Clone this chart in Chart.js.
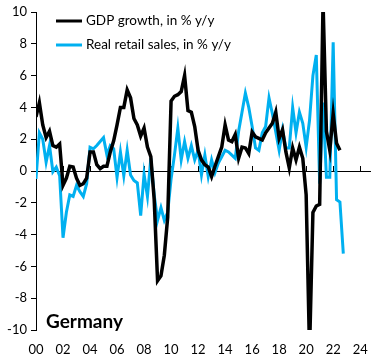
<!DOCTYPE html>
<html>
<head>
<meta charset="utf-8">
<script src="https://cdn.jsdelivr.net/npm/chart.js@4.4.1/dist/chart.umd.min.js"></script>
<style>
  html, body { margin: 0; padding: 0; background: #fff; }
  #wrap { position: relative; width: 384px; height: 360px; }
</style>
</head>
<body>
<div id="wrap"><canvas id="chart" width="384" height="360"></canvas></div>
<script>
// quarterly data, first point = 2000 Q1
const startYear = 2000;
const xTickLabels = ['00', '02', '04', '06', '08', '10', '12', '14', '16', '18', '20', '22', '24'];
const seriesNames = ['GDP growth, in % y/y', 'Real retail sales, in % y/y'];
const chartTitle = 'Germany';

const gdpGrowth = [
    3.4, 4.3, 2.9, 2.1, 2.5, 1.6, 1.5, 1.7,
    -0.9, -0.45, 0.3, 0.25, -0.45, -0.9, -0.8, -0.45,
    1.2, 1.2, 0.4, 0.15, 0.3, 0.3, 1.2, 1.9,
    2.9, 4.0, 4.0, 5.1, 4.6, 3.3, 2.9, 2.2,
    2.7, 1.5, 0.9, -1.8, -6.9, -6.6, -5.3, -2.9,
    4.4, 4.7, 4.8, 5.0, 6.0, 3.8, 3.7, 2.8,
    1.3, 0.7, 0.4, 0.25, -0.35, 0.3, 0.9, 1.5,
    2.9, 1.95, 1.85, 2.3, 0.8, 1.5, 1.45, 1.1,
    2.45, 2.15, 2.05, 1.95, 2.4, 2.7, 3.0, 3.7,
    2.05, 2.6, 1.2, 0.2, 1.45, 0.7, 1.5, 0.8,
    -1.5, -11.3, -2.6, -2.2, -2.1, 10.6, 2.5, 1.3,
    3.6, 1.75, 1.3
];

const retailSales = [
    -0.5, 2.4, 2.0, 0.55, 1.6, -0.05, 0.25, -0.3,
    -4.2, -2.6, -1.5, -1.6, -0.9, -1.3, -1.6, -0.8,
    1.5, 1.4, 1.6, 1.85, 2.1, 1.0, 1.6, 1.4,
    -0.4, 1.2, -0.3, 1.3, -0.25, -0.6, -0.75, -2.8,
    -0.2, -1.6, 0.8, -1.5, -3.1, -2.3, -3.1, -2.6,
    -0.5, 1.0, 2.7, 0.7, 1.85, 0.8, 1.6, 0.7,
    1.3, -0.25, 1.0, -0.35, 0.7, -0.1, 0.5, 0.9,
    1.3, 1.2, 1.0, 0.8, 2.5, 3.7, 4.9, 4.0,
    2.8, 1.45, 1.3, 2.4, 2.8, 4.6, 3.6, 2.45,
    1.3, 2.6, 1.45, 1.45, 4.0, 2.4, 3.7, 3.0,
    1.5, 3.2, 6.0, 7.3, -0.8, 4.3, -0.4, -0.4,
    8.1, -1.8, -1.95, -5.2
];

const toPoints = arr => arr.map((v, i) => ({ x: i / 4, y: v }));

const fontFamily = 'Lato, "Open Sans", sans-serif';
const lineColors = ['#000000', '#00b0f0'];

// axis line at y = 0 with small tick marks pointing up
const zeroAxisPlugin = {
    id: 'zeroAxis',
    beforeDatasetsDraw(chart) {
        const ctx = chart.ctx;
        const xs = chart.scales.x;
        const y0 = chart.scales.y.getPixelForValue(0);
        ctx.save();
        ctx.strokeStyle = '#000';
        ctx.lineWidth = 1;
        ctx.beginPath();
        ctx.moveTo(chart.chartArea.left, y0 + 0.5);
        ctx.lineTo(chart.chartArea.right, y0 + 0.5);
        xs.ticks.forEach(t => {
            if (t.value === 0) return;
            const px = Math.round(xs.getPixelForValue(t.value)) + 0.5;
            ctx.moveTo(px, y0);
            ctx.lineTo(px, y0 - 5);
        });
        ctx.stroke();
        ctx.restore();
    }
};

const legendPlugin = {
    id: 'insideLegend',
    afterDraw(chart) {
        const ctx = chart.ctx;
        const area = chart.chartArea;
        ctx.save();
        ctx.font = '13.5px ' + fontFamily;
        ctx.textBaseline = 'middle';
        seriesNames.forEach((name, i) => {
            const y = area.top + 9 + i * 24;
            const x = area.left + 20;
            ctx.strokeStyle = lineColors[i];
            ctx.lineWidth = 3;
            ctx.beginPath();
            ctx.moveTo(x, y);
            ctx.lineTo(x + 26, y);
            ctx.stroke();
            ctx.fillStyle = '#000';
            ctx.fillText(name, x + 30, y);
        });
        ctx.font = 'bold 19px ' + fontFamily;
        ctx.textBaseline = 'middle';
        ctx.fillText(chartTitle, area.left + 10, area.bottom - 8);
        ctx.restore();
    }
};

new Chart(document.getElementById('chart'), {
    type: 'line',
    data: {
        datasets: [
            {
                label: seriesNames[0],
                data: toPoints(gdpGrowth),
                borderColor: lineColors[0],
                borderWidth: 3.5,
                pointRadius: 0,
                tension: 0
            },
            {
                label: seriesNames[1],
                data: toPoints(retailSales),
                borderColor: lineColors[1],
                borderWidth: 3,
                pointRadius: 0,
                tension: 0
            }
        ]
    },
    options: {
        responsive: false,
        animation: false,
        layout: { padding: { top: 12, right: 13, left: 0, bottom: 0 } },
        plugins: {
            legend: { display: false },
            tooltip: { enabled: false }
        },
        scales: {
            x: {
                type: 'linear',
                min: 0,
                max: 24.8,
                border: { display: false },
                grid: { display: false, drawTicks: false },
                ticks: {
                    stepSize: 2,
                    includeBounds: false,
                    autoSkip: false,
                    padding: 12,
                    maxRotation: 0,
                    color: '#000',
                    font: { family: fontFamily, size: 13 },
                    callback: v => xTickLabels[v / 2]
                },
                afterFit: s => { s.height = 30; s.paddingRight = 0; s.paddingLeft = 0; }
            },
            y: {
                min: -10,
                max: 10,
                border: { display: true, color: '#000', width: 1 },
                grid: { drawOnChartArea: false, drawTicks: true, tickLength: 5, color: '#000' },
                ticks: {
                    stepSize: 2,
                    padding: 4,
                    color: '#000',
                    font: { family: fontFamily, size: 13 }
                },
                afterFit: s => { s.width = 36; }
            }
        }
    },
    plugins: [zeroAxisPlugin, legendPlugin]
});
</script>
</body>
</html>
